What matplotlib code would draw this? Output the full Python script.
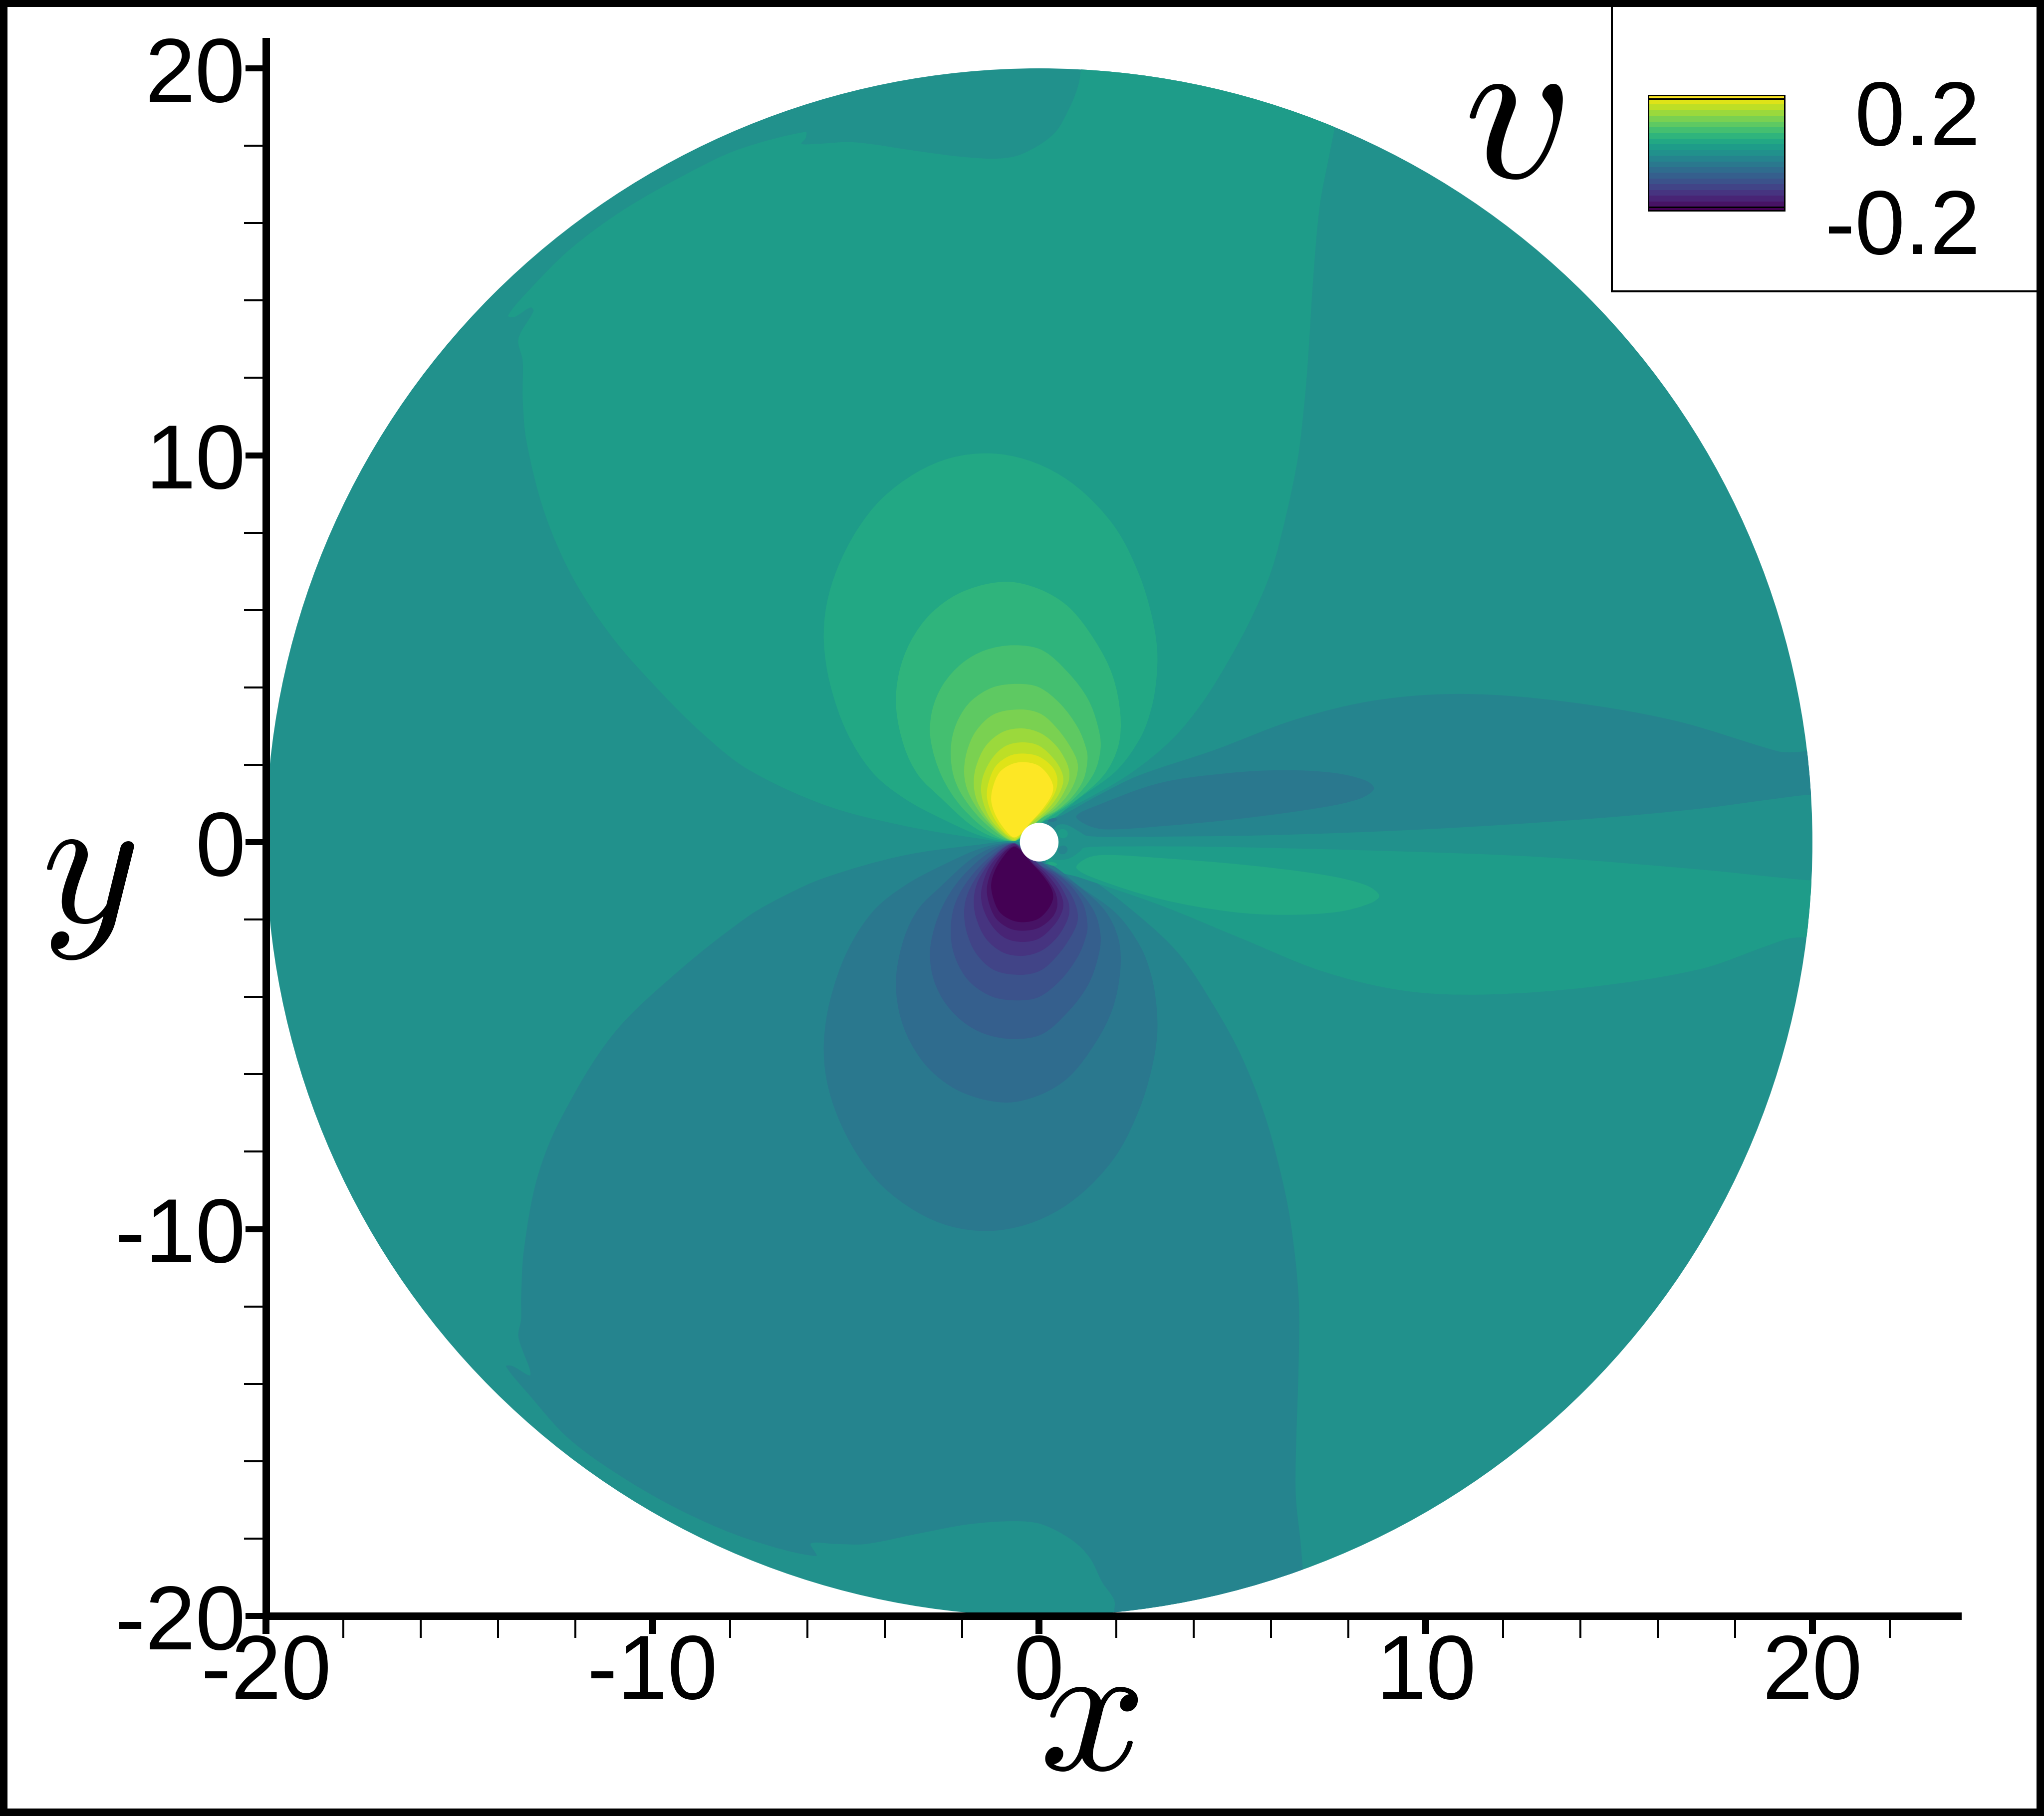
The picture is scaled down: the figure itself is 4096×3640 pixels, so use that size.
import numpy as np
import matplotlib
matplotlib.use("Agg")
import matplotlib.pyplot as plt
from matplotlib.colors import Normalize
from matplotlib.patches import Circle, Ellipse, PathPatch, Rectangle
from matplotlib.path import Path

plt.rcParams["font.family"] = ["Liberation Sans", "DejaVu Sans"]
plt.rcParams["mathtext.fontset"] = "cm"

W, H, DPI = 4096, 3641, 100
PT = 72 / DPI   # one output pixel in points

# ============================================================
# Axes
# ============================================================
X_MAJOR = [-20, -10, 0, 10, 20]
X_LABELS = ["-20", "-10", "0", "10", "20"]
X_MINOR = [-18, -16, -14, -12, -8, -6, -4, -2, 2, 4, 6, 8, 12, 14, 16, 18, 22]
Y_MAJOR = [-20, -10, 0, 10, 20]
Y_LABELS = ["-20", "-10", "0", "10", "20"]
Y_MINOR = [-18, -16, -14, -12, -8, -6, -4, -2, 2, 4, 6, 8, 12, 14, 16, 18]
DISC_RADIUS = 20.0
CYLINDER_RADIUS = 0.5

# ============================================================
# Legend bands
# ============================================================
CBAR_LEVELS = [-0.18, -0.16, -0.14, -0.12, -0.10, -0.08, -0.06, -0.04, -0.02, 0.0,
               0.02, 0.04, 0.06, 0.08, 0.10, 0.12, 0.14, 0.16, 0.18]
CBAR_LABELS = ["0.2", "-0.2"]

# ============================================================
# Contour outlines, in data units
# ============================================================
BACKGROUND_LEVEL = 0.0

# v = +0.02, upper region
UPPER_X = [-0.5, -1.60, -3.58, -5.55, -7.53, -8.70, -9.85, -11.04, -12.05, -12.79, -13.26, -13.36,
           -13.36, -13.47, -13.08, -13.16, -13.58, -13.74, -13.24, -12.14, -10.74, -9.01, -7.76,
           -6.04, -6.04, -6.15, -5.73, -4.79, -3.07, -1.97, -1.03, -0.41, 0.38, 0.77, 1.00, 1.08,
           1.12, 4.0, 7.8, 7.75, 7.65, 7.50, 7.26, 7.10, 6.95, 6.87, 6.70, 6.40, 6.01, 5.51, 4.92, 4.23,
           3.44, 2.35, 1.07, 0.28, 0.0]
UPPER_Y = [0.0, 0.10, 0.44, 0.96, 1.88, 2.80, 3.94, 5.29, 6.81, 8.50, 10.35, 11.47,
           12.44, 13.01, 13.73, 13.82, 13.57, 13.61, 14.22, 15.32, 16.35, 17.33, 17.91,
           18.36, 18.20, 18.05, 18.05, 18.09, 17.85, 17.71, 17.67, 17.80, 18.31, 18.95, 19.52, 19.98,
           20.6, 21.0, 20.5, 19.2, 18.51, 17.74, 16.47, 14.74, 12.44, 11.47, 9.99, 8.51, 7.03, 5.84, 4.73, 3.62,
           2.66, 1.77, 1.03, 0.66, 0.4]

# v = -0.02, lower region
LOWER_X = [-1.60, -3.58, -5.55, -6.54, -7.53, -9.35, -11.04, -12.39, -12.99, -13.33, -13.40, -13.40,
           -13.47, -13.16, -13.63, -13.79, -13.24, -12.14, -10.58, -9.01, -7.45, -5.77, -5.91,
           -5.26, -4.48, -3.07, -1.82, -0.64, 0.06, 0.85, 1.31, 1.63, 1.94, 1.94, 2.0, 4.5, 7.0,
           6.85, 6.82, 6.76, 6.64, 6.64, 6.71, 6.71, 6.50, 6.21, 5.81, 5.22, 4.53, 3.64, 2.55, 1.17, 0.28, -0.5]
LOWER_Y = [-0.07, -0.36, -0.92, -1.36, -1.92, -3.35, -4.99, -7.18, -8.70, -10.55, -11.76, -12.33,
           -12.79, -13.77, -13.54, -13.55, -14.23, -15.44, -16.54, -17.40, -18.04, -18.45, -18.13,
           -18.14, -18.14, -17.86, -17.63, -17.55, -17.63, -18.04, -18.50, -19.13, -19.59, -19.94, -20.6, -21.0, -20.4,
           -19.2, -18.81, -18.09, -16.94, -15.79, -13.49, -11.76, -9.81, -8.40, -6.99, -5.51, -4.25, -2.92, -1.88, -0.84, -0.40, 0.0]

# v = -0.02, wake band right of the cylinder, y > 0
WAKE_DARK_X = [0.2, 0.65, 1.51, 2.57, 4.53, 6.63, 8.73, 10.97, 13.63, 16.44, 19.1, 19.45, 19.89, 21.0,
               21.0, 19.98, 19.1, 17.13, 14.34, 10.13, 5.93, 2.29, 1.25, 1.04, 0.82, 0.65, 0.48, 0.25]
WAKE_DARK_Y = [0.5, 0.72, 1.20, 1.72, 2.38, 3.17, 3.67, 3.83, 3.63, 3.14, 2.35, 2.32, 2.35, 2.35,
               1.23, 1.23, 1.13, 0.87, 0.61, 0.34, 0.18, 0.14, 0.16, 0.27, 0.40, 0.46, 0.44, 0.25]

# v = +0.02, wake band right of the cylinder, y < 0
WAKE_LIGHT_X = [0.25, 0.35, 0.65, 0.82, 1.04, 1.17, 2.29, 4.53, 8.73, 12.9, 17.13, 19.98, 21.0,
                21.0, 19.9, 19.4, 18.8, 17.1, 14.3, 11.5, 9.43, 7.33, 5.23, 3.13, 1.03, 0.19]
WAKE_LIGHT_Y = [-0.3, -0.44, -0.45, -0.40, -0.25, -0.14, -0.11, -0.12, -0.22, -0.38, -0.71, -0.99, -0.99,
                -2.46, -2.46, -2.49, -2.69, -3.28, -3.74, -3.94, -3.84, -3.34, -2.49, -1.63, -0.91, -0.65]

# closed lobes inside the wake bands
WAKE_LOBE_UP_X = [0.96, 1.45, 3.13, 4.95, 6.35, 7.62, 8.45, 8.66, 8.31, 7.33, 5.23, 3.13, 1.73, 1.24]
WAKE_LOBE_UP_Y = [0.67, 0.93, 1.53, 1.79, 1.86, 1.79, 1.59, 1.38, 1.13, 0.90, 0.61, 0.41, 0.33, 0.44]
WAKE_LOBE_DOWN_X = [0.96, 1.45, 3.13, 4.95, 6.35, 7.75, 8.59, 8.80, 8.45, 7.33, 5.23, 3.13, 1.73, 1.24]
WAKE_LOBE_DOWN_Y = [-0.66, -0.94, -1.47, -1.80, -1.88, -1.80, -1.57, -1.38, -1.11, -0.84, -0.58, -0.41, -0.33, -0.41]
WAKE_LOBE_LEVEL = 0.04

# the nested lobes above the cylinder; the ones below mirror them in y with opposite sign
LOBE_LEVELS = [0.04, 0.06, 0.08, 0.10, 0.12, 0.14, 0.16, 0.18, 0.20]
LOBE_XS = [
    [-0.6, -1.41, -2.53, -3.49, -4.30, -4.97, -5.41, -5.57, -5.50, -5.21, -4.71, -4.07, -3.18, -2.29, -1.30, -0.32,
     0.57, 1.36, 2.06, 2.60, 2.90, 3.05, 3.03, 2.90, 2.62, 2.00, 1.03, 0.36, -0.02],
    [-0.6, -1.19, -1.79, -2.53, -3.12, -3.49, -3.70, -3.63, -3.33, -2.79, -1.99, -0.91, -0.02, 0.77, 1.46, 1.90,
     2.10, 2.05, 1.70, 0.97, 0.18],
    [-0.6, -1.19, -2.00, -2.53, -2.81, -2.77, -2.49, -2.00, -1.40, -0.66, 0.08, 0.77, 1.26, 1.51, 1.59, 1.41, 0.87, 0.08],
    [-0.6, -0.81, -1.12, -1.59, -1.98, -2.19, -2.28, -2.26, -2.09, -1.76, -1.20, -0.56, 0.0, 0.56, 1.0, 1.21,
     1.25, 1.15, 0.87, 0.44, 0.0],
    [-0.6, -0.84, -1.12, -1.50, -1.83, -1.94, -1.88, -1.63, -1.16, -0.47, 0.05, 0.48, 0.82, 0.99, 0.97, 0.78, 0.44, 0.0],
    [-0.6, -0.77, -1.03, -1.33, -1.59, -1.69, -1.64, -1.38, -0.94, -0.43, 0.05, 0.44, 0.69, 0.78, 0.74, 0.44, 0.0],
    [-0.6, -0.73, -1.12, -1.35, -1.50, -1.45, -1.20, -0.86, -0.43, 0.0, 0.39, 0.59, 0.62, 0.48, 0.18, -0.15],
    [-0.55, -0.66, -0.90, -1.20, -1.35, -1.31, -1.12, -0.77, -0.41, 0.00, 0.35, 0.47, 0.41, 0.13, -0.19],
    [-0.47, -0.66, -0.86, -1.12, -1.24, -1.20, -1.03, -0.73, -0.41, -0.04, 0.22, 0.36, 0.31, 0.05, -0.25],
]
LOBE_YS = [
    [0.05, 0.13, 0.61, 1.13, 1.79, 2.83, 4.09, 5.18, 6.14, 7.10, 8.07, 8.88, 9.55, 9.93, 10.05, 9.88,
     9.47, 8.84, 7.99, 6.88, 5.90, 5.00, 4.20, 3.45, 2.70, 1.85, 1.13, 0.61, 0.52],
    [0.04, 0.13, 0.46, 1.13, 1.72, 2.46, 3.47, 4.36, 5.18, 5.92, 6.47, 6.73, 6.55, 6.07, 5.18, 4.30,
     3.30, 2.50, 1.77, 1.10, 0.59],
    [0.04, 0.20, 0.90, 1.72, 2.66, 3.40, 4.07, 4.62, 4.96, 5.09, 4.96, 4.36, 3.70, 3.03, 2.44, 1.77, 1.10, 0.55],
    [0.04, 0.06, 0.25, 0.68, 1.19, 1.63, 2.10, 2.66, 3.18, 3.65, 4.0, 4.09, 4.0, 3.56, 2.96, 2.44,
     2.14, 1.63, 1.19, 0.81, 0.59],
    [0.04, 0.09, 0.31, 0.72, 1.28, 1.75, 2.31, 2.88, 3.31, 3.43, 3.31, 2.92, 2.44, 2.06, 1.71, 1.28, 0.89, 0.57],
    [0.05, 0.07, 0.25, 0.59, 1.02, 1.45, 1.93, 2.49, 2.85, 2.94, 2.81, 2.49, 2.10, 1.80, 1.50, 0.98, 0.59],
    [0.06, 0.08, 0.42, 0.76, 1.28, 1.71, 2.19, 2.49, 2.58, 2.49, 2.14, 1.80, 1.54, 1.19, 0.81, 0.53],
    [0.12, 0.10, 0.25, 0.68, 1.15, 1.54, 1.97, 2.23, 2.29, 2.21, 1.93, 1.63, 1.28, 0.85, 0.53],
    [0.22, 0.125, 0.29, 0.68, 1.06, 1.41, 1.80, 2.01, 2.07, 1.99, 1.75, 1.45, 1.19, 0.81, 0.48],
]

# small islands hugging the cylinder
ISLAND_X = [0.34, 0.61, 0.61, 0.34]
ISLAND_Y = [0.57, 0.22, -0.20, -0.56]
ISLAND_W = [0.25, 0.26, 0.25, 0.25]
ISLAND_H = [0.09, 0.24, 0.22, 0.09]
ISLAND_ANGLE = [10, -20, 20, -10]
ISLAND_LEVEL = [-0.04, 0.02, -0.02, 0.04]


def px_x(p):
    return p / W


def px_y(p):
    return 1 - p / H


def closed_spline(x, y):
    """Closed chord-length Catmull-Rom outline through the read points, as Bezier segments."""
    pts = np.column_stack([x, y])
    n = len(pts)
    verts = [pts[0]]
    codes = [Path.MOVETO]
    for i in range(n):
        p0, p1, p2, p3 = pts[i - 1], pts[i], pts[(i + 1) % n], pts[(i + 2) % n]
        d1 = np.hypot(*(p1 - p0))
        d2 = np.hypot(*(p2 - p1))
        d3 = np.hypot(*(p3 - p2))
        c1 = p1 + (p2 - p0) / (d1 + d2) * d2 / 3
        c2 = p2 - (p3 - p1) / (d2 + d3) * d2 / 3
        verts += [c1, c2, p2]
        codes += [Path.CURVE4] * 3
    return Path(np.array(verts), codes)


norm = Normalize(-0.2, 0.2)
cmap = plt.cm.viridis

fig = plt.figure(figsize=(W / DPI, H / DPI), dpi=DPI)
x_right = (3923 - 2083) / 77.45
y_top = (1689 - 84) / 77.55
ax = fig.add_axes([px_x(533), px_y(3240), (3923 - 533) / W, (3240 - 84) / H])
ax.set_xlim(-20, x_right)
ax.set_ylim(-20, y_top)
ax.patch.set_alpha(0)

disc = Circle((0, 0), DISC_RADIUS, fc=cmap(norm(BACKGROUND_LEVEL)), ec="none", zorder=1)
ax.add_patch(disc)


def add_region(x, y, level, zorder=2):
    patch = PathPatch(closed_spline(x, y), fc=cmap(norm(level)), ec="none", zorder=zorder)
    ax.add_patch(patch)
    patch.set_clip_path(disc)


add_region(UPPER_X, UPPER_Y, 0.02)
add_region(LOWER_X, LOWER_Y, -0.02)
add_region(WAKE_DARK_X, WAKE_DARK_Y, -0.02)
add_region(WAKE_LIGHT_X, WAKE_LIGHT_Y, 0.02)
add_region(WAKE_LOBE_UP_X, WAKE_LOBE_UP_Y, -WAKE_LOBE_LEVEL, zorder=3)
add_region(WAKE_LOBE_DOWN_X, WAKE_LOBE_DOWN_Y, WAKE_LOBE_LEVEL, zorder=3)

for k, level in enumerate(LOBE_LEVELS):
    add_region(LOBE_XS[k], LOBE_YS[k], level, zorder=4 + k)
    add_region(LOBE_XS[k], -np.array(LOBE_YS[k]), -level, zorder=4 + k)

for i in range(len(ISLAND_X)):
    ax.add_patch(Ellipse((ISLAND_X[i], ISLAND_Y[i]), ISLAND_W[i], ISLAND_H[i], angle=ISLAND_ANGLE[i],
                         fc=cmap(norm(ISLAND_LEVEL[i])), ec="none", zorder=14))
ax.add_patch(Circle((0, 0), CYLINDER_RADIUS, fc="white", ec="none", zorder=15))

# ------------------------------------------------------------
# spines and ticks
# ------------------------------------------------------------
for side in ("top", "right"):
    ax.spines[side].set_visible(False)
for side in ("left", "bottom"):
    ax.spines[side].set_linewidth(15 * PT)
    ax.spines[side].set_zorder(20)

ax.set_xticks(X_MAJOR, labels=X_LABELS)
ax.set_yticks(Y_MAJOR, labels=Y_LABELS)
ax.set_xticks(X_MINOR, minor=True)
ax.set_yticks(Y_MINOR, minor=True)
ax.tick_params(axis="x", which="major", width=14 * PT, length=36 * PT, pad=-3 * PT, labelsize=130)
ax.tick_params(axis="y", which="major", width=12 * PT, length=41 * PT, pad=0, labelsize=130)
ax.tick_params(axis="both", which="minor", width=4 * PT, length=44 * PT)

# ------------------------------------------------------------
# legend box
# ------------------------------------------------------------
fig.add_artist(Rectangle((px_x(3230), px_y(585)), (W - 3230) / W + 0.01, 585 / H + 0.01,
                         transform=fig.transFigure, fc="white", ec="black", lw=4 * PT, zorder=2))

cax = fig.add_axes([px_x(3303), px_y(423), (3576 - 3303) / W, (423 - 192) / H], zorder=3)
levels = np.array(CBAR_LEVELS)
band_edges = np.concatenate([[-0.2024, levels[0] - 0.01], levels[:-1] + 0.01, [levels[-1] + 0.01, 0.2024]])
band_values = np.concatenate([[-0.2], levels, [0.2]])
cax.pcolormesh([0, 1], band_edges, band_values[:, None], cmap=cmap, norm=norm, shading="flat")
cax.hlines([levels[0] - 0.01, levels[-1] + 0.01], 0, 1, color="black", lw=3 * PT)
cax.set_xlim(0, 1)
cax.set_ylim(-0.2024, 0.2024)
cax.set_xticks([])
cax.set_yticks([])
for spine in cax.spines.values():
    spine.set_linewidth(3 * PT)

fig.text(px_x(3968), px_y(291), CBAR_LABELS[0], ha="right", va="baseline", fontsize=130, zorder=4)
fig.text(px_x(3968), px_y(509), CBAR_LABELS[1], ha="right", va="baseline", fontsize=130, zorder=4)

fig.text(px_x(3033), px_y(245), r"$v$", ha="center", va="center", fontsize=305, zorder=4)
fig.text(px_x(2182), px_y(3450), r"$x$", ha="center", va="center", fontsize=270, zorder=4)
fig.text(px_x(176), px_y(1752), r"$y$", ha="center", va="center", fontsize=270, zorder=4)

# outer black frame
fig.add_artist(Rectangle((0, 0), 1, 1, transform=fig.transFigure, fill=False, ec="black", lw=30 * PT, zorder=10))

fig.savefig("out.png", dpi=DPI)
